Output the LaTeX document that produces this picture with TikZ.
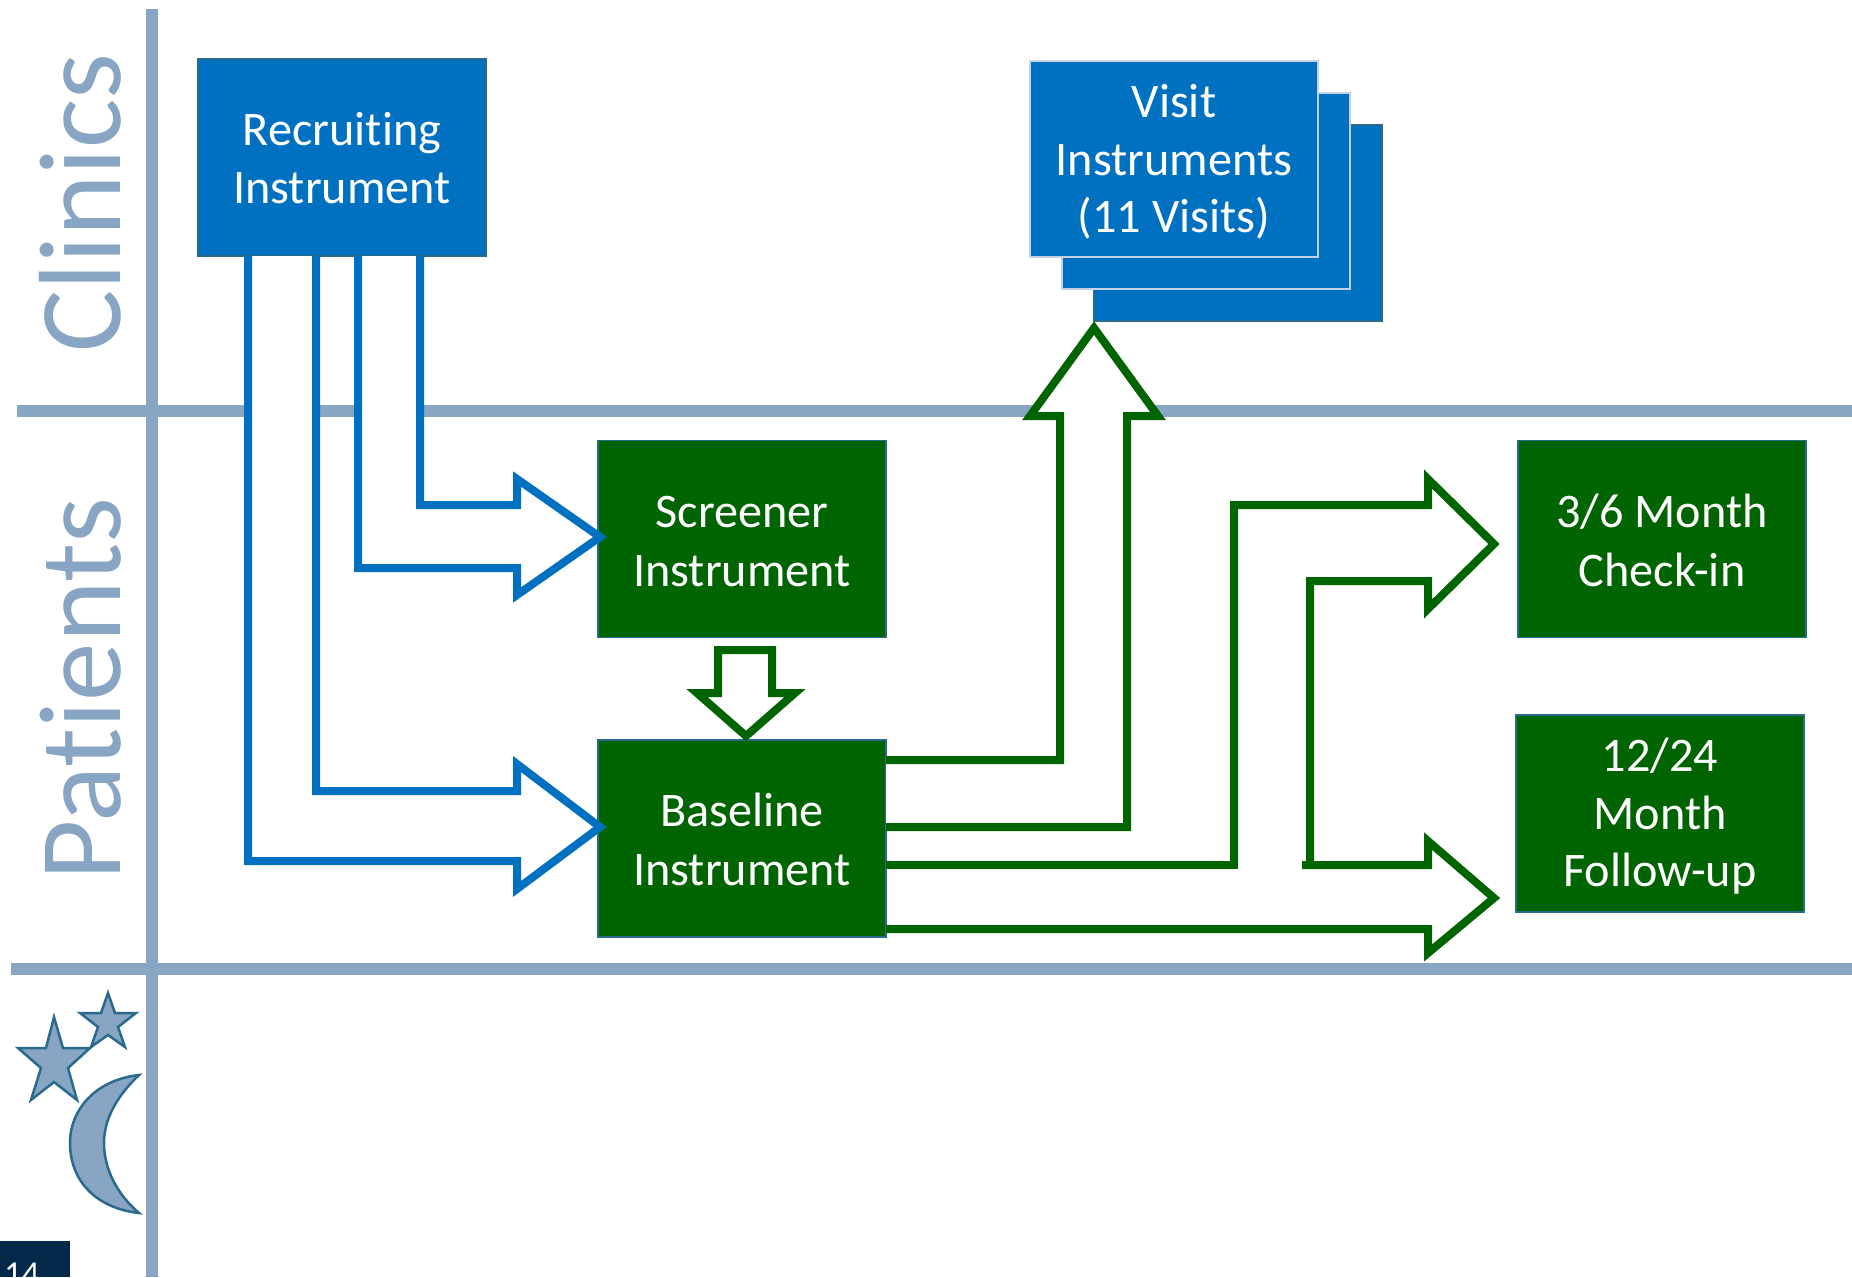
\documentclass[tikz,border=0pt]{standalone}
\usepackage{fontspec}
\setmainfont{Carlito}[Ligatures=NoCommon]
\definecolor{rule}{HTML}{88A5C3}
\definecolor{boxblue}{HTML}{0070C0}
\definecolor{boxgreen}{HTML}{006400}
\definecolor{edge}{HTML}{2A6A8C}
\definecolor{lightedge}{HTML}{C5D0E3}
\definecolor{navy}{HTML}{03284A}
\newcommand{\dropline}[1]{\rule{0pt}{#1}}
\tikzset{
  ruleline/.style={draw=rule,line width=12pt},
  box/.style={minimum width=#1,inner sep=0pt,outer sep=0pt,text=white,align=center,line width=1.6pt,
     font=\fontsize{48.2}{57.5}\selectfont},
  bluebox/.style={box=288pt,fill=boxblue,draw=edge,minimum height=197pt},
  visitbox/.style={box=288pt,fill=boxblue,minimum height=196pt},
  greenbox/.style={box=288pt,fill=boxgreen,draw=edge,minimum height=197pt},
  bluearrow/.style={draw=boxblue,fill=white,line width=8pt,miter limit=10},
  greenarrow/.style={draw=boxgreen,fill=white,line width=8pt,miter limit=10},
  greenline/.style={draw=boxgreen,line width=8pt,miter limit=10},
  sidetext/.style={rotate=90,text=rule,inner sep=0pt,font=\fontsize{117}{117}\selectfont,anchor=base},
  mark shape/.style={fill=rule,draw=edge,line width=2.5pt,line join=miter},
}
\begin{document}
\begin{tikzpicture}[x=1pt,y=-1pt]
\useasboundingbox (0,0) rectangle (1852,1277);
\clip (0,0) rectangle (1852,1277);
% rules
\draw[ruleline] (152,9) -- (152,1277);
\draw[ruleline] (17,411) -- (1852,411);
\draw[ruleline] (11,969) -- (1852,969);
% side labels
\node[sidetext] (clinics) at (120,203) {Clinics};
\node[sidetext] (patients) at (120,689) {Patients};
% boxes
\node[bluebox] (recruit) at (342,157.5) {\dropline{34pt}Recruiting\\Instrument};
\node[visitbox,draw=edge] (visit3) at (1238,223) {};
\node[visitbox,draw=lightedge] (visit2) at (1206,191) {};
\node[visitbox,draw=lightedge] (visit1) at (1174,159) {\dropline{39pt}Visit\\Instruments\\(11 Visits)};
\node[greenbox,font=\fontsize{48.2}{59}\selectfont] (screener) at (742,539) {\dropline{36pt}Screener\\Instrument};
\node[greenbox,font=\fontsize{48.2}{59}\selectfont] (baseline) at (742,838.5) {\dropline{35pt}Baseline\\Instrument};
\node[greenbox,font=\fontsize{48.2}{59}\selectfont] (checkin) at (1662,539) {\dropline{36pt}3/6 Month\\Check-in};
\node[greenbox] (followup) at (1660,813.5) {\dropline{39pt}12/24\\Month\\Follow-up};
% arrow tips
\coordinate (tipS) at (600,537);
\coordinate (tipB) at (600,827);
\coordinate (tipV) at (1094,328);
\coordinate (tipC) at (1494,544);
\coordinate (tipF) at (1494,898);
\coordinate (tipD) at (746,736);
% blue block arrows
\draw[bluearrow] (420,0 |- recruit.south) -- (420,505) -- (517,505) -- (517,479) -- (tipS) -- (517,595) -- (517,568) -- (358,568) -- (358,0 |- recruit.south);
\draw[bluearrow] (316,0 |- recruit.south) -- (316,791) -- (517,791) -- (517,764) -- (tipB) -- (517,889) -- (517,861) -- (248,861) -- (248,0 |- recruit.south);
% green block arrows
\draw[greenarrow] (baseline.east |- 0,760) -- (1060,760) -- (1060,416) -- (1030,416) -- (tipV) -- (1158,416) -- (1127,416) -- (1127,827) -- (baseline.east |- 0,827);
\draw[greenarrow] (718,650) -- (772,650) -- (772,693) -- (795,693) -- (tipD) -- (697,693) -- (718,693) -- cycle;
\draw[greenline] (baseline.east |- 0,865) -- (1238,865);
\draw[greenline] (1234,865) -- (1234,505) -- (1428,505) -- (1428,479) -- (tipC) -- (1428,609) -- (1428,581) -- (1310,581) -- (1310,865);
\draw[greenline] (1302,865) -- (1428,865) -- (1428,841) -- (tipF) -- (1428,953) -- (1428,929) -- (baseline.east |- 0,929);
% night marks
\draw[mark shape] (54,1017) -- (63,1048) -- (90,1048) -- (68,1068) -- (77,1100) -- (54,1082) -- (31,1100) -- (41,1068) -- (18,1048) -- (46,1048) -- cycle;
\draw[mark shape] (108,993) -- (115,1013) -- (136,1013) -- (118,1027) -- (125,1047) -- (108,1035) -- (91,1047) -- (98,1027) -- (80,1013) -- (101,1013) -- cycle;
\draw[mark shape] (139,1075) .. controls (95,1080) and (70,1110) .. (70,1143) .. controls (70,1180) and (95,1208) .. (139,1213) .. controls (118,1195) and (104,1170) .. (104,1143) .. controls (104,1118) and (118,1095) .. (139,1075) -- cycle;
% page number
\node[fill=navy,minimum width=70pt,minimum height=36pt,inner sep=0pt,outer sep=0pt,anchor=north west] (pagebox) at (0,1241) {};
\node[text=white,inner sep=0pt,anchor=base west,font=\fontsize{35}{35}\selectfont] (pagenum) at (4,1285) {14};
\end{tikzpicture}
\end{document}
